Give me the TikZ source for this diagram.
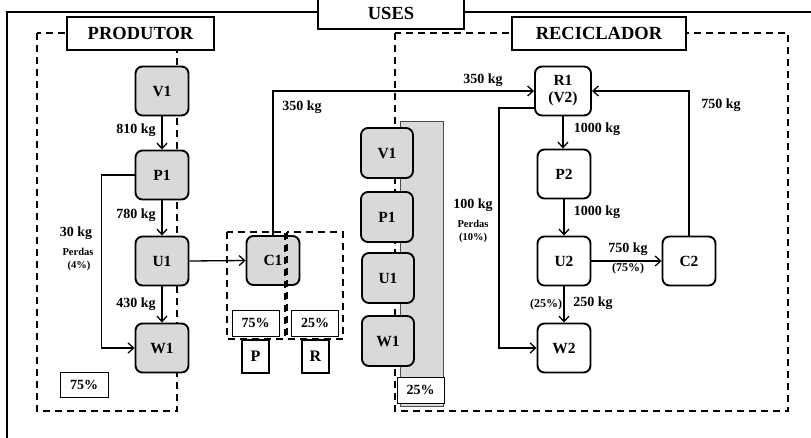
\documentclass[tikz,border=0pt]{standalone}
\usepackage{fontspec}
\setmainfont{Liberation Serif}
\usetikzlibrary{arrows.meta}
\definecolor{nodegray}{RGB}{217,217,217}
\begin{document}
\begin{tikzpicture}[x=1pt,y=-1pt,
  gnode/.style={draw, line width=1.9pt, rounded corners=7pt, fill=nodegray, minimum width=53pt, minimum height=49pt, inner sep=0pt, font=\fontsize{15.5}{16}\selectfont\bfseries, align=center},
  wnode/.style={gnode, fill=white},
  arr/.style={line width=1.3pt, -{Straight Barb[length=5.5pt,width=10pt,line width=1.3pt]}},
  dashbox/.style={line width=1.8pt, dash pattern=on 7pt off 5pt},
  titlebox/.style={draw, line width=1.8pt, fill=white, inner sep=0pt, font=\fontsize{18.5}{20}\selectfont\bfseries},
  pbox/.style={draw, line width=1pt, fill=white, inner sep=0pt, minimum width=47pt, minimum height=26pt, font=\fontsize{14}{15}\selectfont\bfseries},
  lbox/.style={draw, line width=1.7pt, fill=white, inner sep=0pt, minimum width=27pt, minimum height=33pt, font=\fontsize{16}{17}\selectfont\bfseries},
  kg/.style={inner sep=0pt, font=\fontsize{14}{15}\selectfont\bfseries},
  small/.style={inner sep=0pt, font=\fontsize{10.5}{11}\selectfont\bfseries},
  pct/.style={inner sep=0pt, font=\fontsize{12}{13}\selectfont\bfseries}
]
\useasboundingbox (0,0) rectangle (811,437);
\clip (0,0) rectangle (811,437);
% outer frame
\draw[line width=1.8pt] (7,460) -- (7,12) -- (840,12);
% USES
\draw[line width=1.8pt, fill=white] (318,-10) rectangle (464,29);
\node[inner sep=0pt, font=\fontsize{18.5}{20}\selectfont\bfseries] (uses) at (391,13) {USES};
% dashed regions
\draw[dashbox] (37,33) rectangle (177,411);
\draw[dashbox] (395,33) rectangle (788,411);
% middle gray strip
\draw[line width=0.8pt, draw=black!70, fill=nodegray] (400,121) rectangle (443,406);
% title boxes
\node[titlebox, minimum width=147pt, minimum height=33pt] (prod) at (140.5,33.5) {PRODUTOR};
\node[titlebox, minimum width=174pt, minimum height=33pt] (recic) at (599,33.5) {RECICLADOR};
% producer nodes
\node[gnode] (v1p) at (162,91) {V1};
\node[gnode] (p1p) at (162,175) {P1};
\node[gnode] (u1p) at (162,261) {U1};
\node[gnode] (w1p) at (162,348) {W1};
\node[gnode] (c1) at (273,260.5) {C1};
% middle stack
\node[gnode, minimum width=52pt, minimum height=50pt] (v1m) at (387,153) {V1};
\node[gnode, minimum width=52pt, minimum height=50pt] (p1m) at (387,217) {P1};
\node[gnode, minimum width=52pt, minimum height=50pt] (u1m) at (388,278) {U1};
\node[gnode, minimum width=52pt, minimum height=50pt] (w1m) at (388,341) {W1};
% recycler nodes
\node[wnode, minimum width=56pt, font=\fontsize{15.5}{17}\selectfont\bfseries] (r1) at (563,91) {R1\\(V2)};
\node[wnode] (p2) at (564,174) {P2};
\node[wnode] (u2) at (564,261) {U2};
\node[wnode] (c2) at (689,261) {C2};
\node[wnode] (w2) at (564,348) {W2};
% producer connectors
\draw[arr] (v1p) -- (p1p);
\draw[arr] (p1p) -- (u1p);
\draw[arr] (u1p) -- (w1p);
\draw[arr] (p1p.west) -- ++(-33,0) |- (w1p.west);
\draw[arr] (u1p.east) -- (c1.west);
\draw[arr] (c1.north) |- (r1.west);
% recycler connectors
\draw[arr] (r1.south) -- (r1.south |- p2.north);
\draw[arr] (p2) -- (u2);
\draw[arr] (u2) -- (c2);
\draw[arr] (u2) -- (w2);
\draw[arr] (c2.north) |- (r1.east);
\draw[arr] ([yshift=-17pt]r1.west) -- ++(-35,0) |- (w2.west);
% labels
\node[kg] (l810) at (136,130) {810 kg};
\node[kg] (l780) at (136,215) {780 kg};
\node[kg] (l430) at (136,304) {430 kg};
\node[kg] (l30) at (76,233) {30 kg};
\node[small] (lperd1) at (78,252) {Perdas};
\node[small] (l4) at (79,266) {(4\%)};
\node[kg] (l350a) at (302,107) {350 kg};
\node[kg] (l350b) at (483,80) {350 kg};
\node[kg] (l1000a) at (597,129) {1000 kg};
\node[kg] (l1000b) at (597,212) {1000 kg};
\node[kg] (l750r) at (721,105) {750 kg};
\node[kg] (l100) at (473,205) {100 kg};
\node[small] (lperd2) at (473,224) {Perdas};
\node[small] (l10) at (473,238) {(10\%)};
\node[kg] (l750) at (628,249) {750 kg};
\node[pct] (l75) at (628,269) {(75\%)};
\node[pct] (l25) at (546,305) {(25\%)};
\node[kg] (l250) at (593,303) {250 kg};
% P / R dashed boxes over C1
\draw[dashbox] (227,232) rectangle (285,339);
\draw[dashbox] (287,232) rectangle (343,339);
\node[pbox] (c75) at (255.5,323) {75\%};
\node[pbox] (c25) at (315,323) {25\%};
\node[lbox] (pp) at (255.5,356.5) {P};
\node[lbox] (rr) at (315.5,356.5) {R};
\node[pbox, minimum width=48pt, minimum height=25pt] (p75) at (84,384.5) {75\%};
\node[pbox, minimum width=47pt, minimum height=26pt] (m25) at (420.5,390) {25\%};
\end{tikzpicture}
\end{document}
